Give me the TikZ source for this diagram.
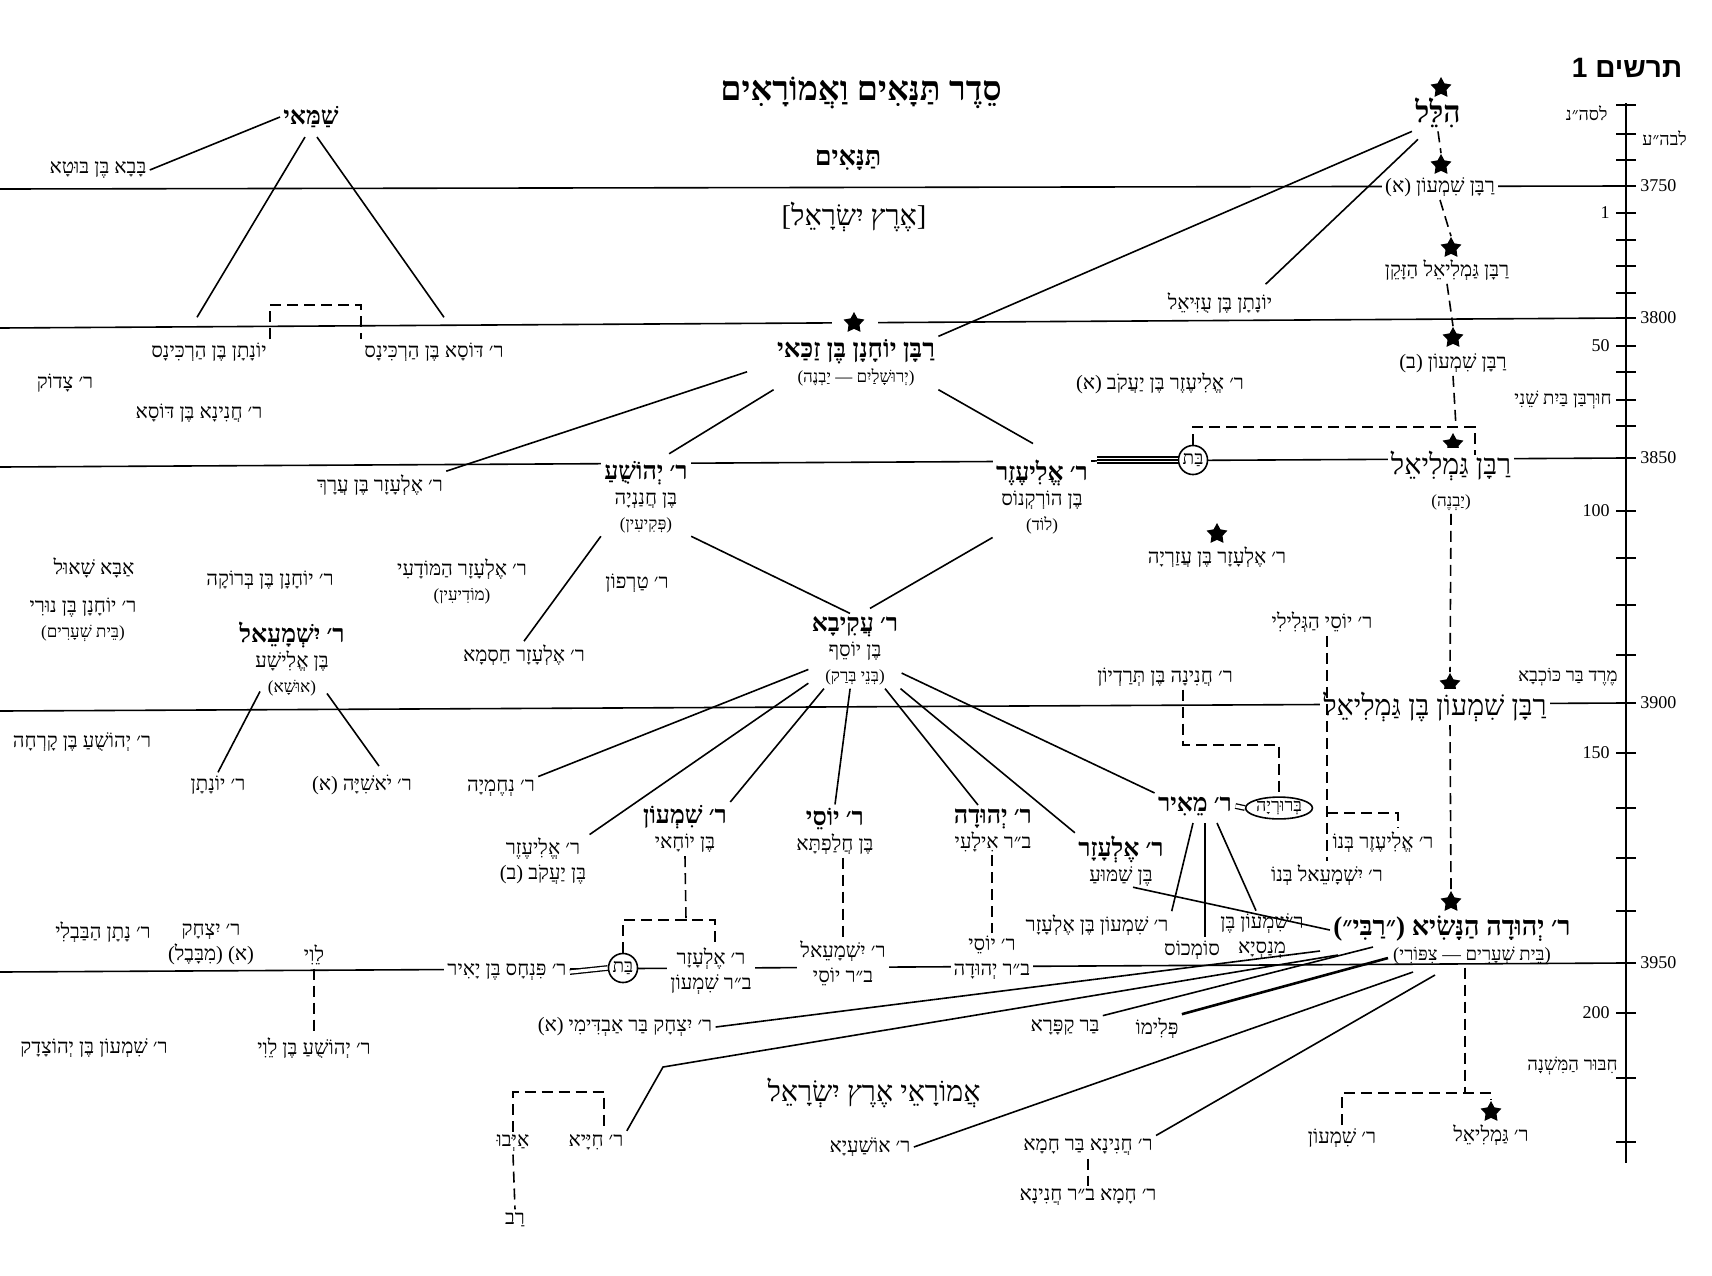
\documentclass[tikz,border=0pt]{standalone}
\usepackage{fontspec}
\setmainfont[Script=Hebrew]{Liberation Serif}
\newfontfamily\hebsans[Script=Hebrew]{Liberation Sans}
\usetikzlibrary{shapes.geometric,calc}
\TeXXeTstate=1

% right-to-left text: plain, bold heading, small place name
\newcommand\hb[1]{\beginR #1\endR}
\newcommand\bn[1]{{\bfseries\fontsize{12.5}{14}\selectfont\beginR #1\endR}}
\newcommand\sm[1]{{\fontsize{8.5}{10}\selectfont\beginR #1\endR}}

\tikzset{
  nm/.style={font=\fontsize{10.2}{12.5}\selectfont, inner sep=1.5pt, align=center},
  big/.style={font=\fontsize{14.3}{16}\selectfont, inner sep=1.5pt, align=center},
  onl/.style={fill=white},
  era/.style={line width=0.8pt},
  con/.style={line width=0.8pt},
  dsh/.style={line width=0.8pt, dash pattern=on 5.5pt off 3pt},
  dbl/.style={line width=0.65pt, double, double distance=1.6pt},
  trip/.style={line width=0.65pt, double, double distance=2.4pt},
  crown/.style={star, star points=5, star point ratio=1.9, fill=black, inner sep=0pt, minimum size=11pt},
  batc/.style={circle, draw, line width=0.8pt, fill=white, inner sep=0.8pt, font=\fontsize{9.5}{10}\selectfont},
  axl/.style={font=\fontsize{9}{10}\selectfont, inner sep=1pt},
}

\begin{document}
\begin{tikzpicture}[x=0.5pt,y=-0.5pt]
\useasboundingbox (0,0) rectangle (1712,1275);
\fill[white] (0,0) rectangle (1712,1275);

% era lines and year axis
\draw[era] (0,189) -- (1626,186);
\draw[era] (0,328) -- (1626,318);
\draw[era] (0,467) -- (1626,458);
\draw[era] (0,711) -- (1626,703);
\draw[era] (0,972) -- (1626,963);
\draw[era] (1626,103) -- (1626,1163);
\foreach \t in {105,134,160,186,213,240,266,293,318,346,372,400,426,458,511,558,605,655,703,753,808,858,911,963,1013,1078,1142}
  \draw[era] (1616,\t) -- (1636,\t);

\node[font=\hebsans\bfseries\fontsize{14}{16}\selectfont] (chart) at (1627,68) {\hb{תרשים 1}};
\node[axl, anchor=east] (ax0) at (1610,113) {\hb{לסה״נ}};
\node[axl, anchor=west] (ax1) at (1640,138) {\hb{לבה״ע}};
\node[axl, anchor=west] (y3750) at (1638,186) {3750};
\node[axl, anchor=west] (y3800) at (1638,318) {3800};
\node[axl, anchor=west] (y3850) at (1638,458) {3850};
\node[axl, anchor=west] (y3900) at (1638,703) {3900};
\node[axl, anchor=west] (y3950) at (1638,963) {3950};
\node[axl, anchor=east] (c1) at (1612,213) {1};
\node[axl, anchor=east] (c50) at (1612,346) {50};
\node[axl, anchor=east, font=\fontsize{9.3}{10}\selectfont] (churban) at (1614,400) {\hb{חוּרְבַּן בַּיִת שֵׁנִי}};
\node[axl, anchor=east] (c100) at (1612,511) {100};
\node[axl, anchor=east, font=\fontsize{9.3}{10}\selectfont] (kochba) at (1620,677) {\hb{מֶרֶד בַּר כּוֹכְבָא}};
\node[axl, anchor=east] (c150) at (1612,753) {150};
\node[axl, anchor=east] (c200) at (1612,1013) {200};
\node[axl, anchor=east, font=\fontsize{9.3}{10}\selectfont] (mishna) at (1620,1066) {\hb{חִבּוּר הַמִּשְׁנָה}};

% headings
\node[font=\bfseries\fontsize{17}{20}\selectfont] (title) at (861,93) {\hb{סֵדֶר תַּנָּאִים וַאֲמוֹרָאִים}};
\node[font=\bfseries\fontsize{13.5}{15}\selectfont] (tanaim) at (848,160) {\hb{תַּנָּאִים}};
\node[big] (eretz) at (854,217) {\hb{[אֶרֶץ יִשְׂרָאֵל]}};
\node[big] (amoraim) at (874,1093) {\hb{אֲמוֹרָאֵי אֶרֶץ יִשְׂרָאֵל}};

% crowns of the Nasi line
\fill[white] (832,314) rectangle (878,334);
\node[crown] (s_hillel) at (1441,88) {};
\node[crown] (s_rs1) at (1441,165) {};
\node[crown] (s_rgz) at (1451,248) {};
\node[crown] (s_rs2) at (1453,338) {};
\node[crown] (s_rgam) at (1453,444) {};
\node[crown] (s_azar) at (1217,534) {};
\node[crown] (s_rsbg) at (1450,684) {};
\node[crown] (s_rabbi) at (1451,902) {};
\node[crown] (s_gr) at (1491,1112) {};
\node[crown] (s_yoch) at (854,323) {};

% Shammai and Hillel
\node[nm] (shammai) at (311,117) {\bn{שַׁמַּאי}};
\node[nm] (bava) at (98,170) {\hb{בָּבָא בֶּן בּוּטָא}};
\node[nm] (yonh) at (209,352) {\hb{יוֹנָתָן בֶּן הַרְכִּינָס}};
\node[nm] (dosa) at (434,352) {\hb{ר׳ דּוֹסָא בֶּן הַרְכִּינָס}};
\node[nm] (tzadok) at (65,383) {\hb{ר׳ צָדוֹק}};
\node[nm] (chaninad) at (199,413) {\hb{ר׳ חֲנִינָא בֶּן דּוֹסָא}};
\node[nm, font=\bfseries\fontsize{15}{17}\selectfont] (hillel) at (1438,113) {\hb{הִלֵּל}};
\node[nm, onl] (rs1) at (1440,187) {\hb{רַבָּן שִׁמְעוֹן (א)}};
\node[nm] (rgz) at (1447,270) {\hb{רַבָּן גַּמְלִיאֵל הַזָּקֵן}};
\node[nm] (yonuz) at (1220,303) {\hb{יוֹנָתָן בֶּן עֻזִּיאֵל}};
\node[nm] (rs2) at (1453,363) {\hb{רַבָּן שִׁמְעוֹן (ב)}};
\node[nm] (eliezerya) at (1160,383) {\hb{ר׳ אֱלִיעֶזֶר בֶּן יַעֲקֹב (א)}};
\node[nm] (yochanan) at (856,363) {{\bfseries\fontsize{13}{14}\selectfont\hb{רַבָּן יוֹחָנָן בֶּן זַכַּאי}}\\\sm{(יְרוּשָׁלַיִם — יַבְנֶה)}};

% Yavne generation
\node[big, onl] (rgam) at (1451,481) {\hb{רַבָּן גַּמְלִיאֵל}\\\sm{(יַבְנֶה)}};
\node[batc] (bat1) at (1193,460) {\hb{בַּת}};
\node[nm, onl] (eliezer) at (1042,497) {\bn{ר׳ אֱלִיעֶזֶר}\\\hb{בֶּן הוֹרְקְנוֹס}\\\sm{(לוֹד)}};
\node[nm, onl] (yehoshua) at (646,497) {\bn{ר׳ יְהוֹשֻׁעַ}\\\hb{בֶּן חֲנַנְיָה}\\\sm{(פְּקִיעִין)}};
\node[nm] (benarach) at (380,485) {\hb{ר׳ אֶלְעָזָר בֶּן עֲרָךְ}};
\node[nm] (azarya) at (1217,557) {\hb{ר׳ אֶלְעָזָר בֶּן עֲזַרְיָה}};
\node[nm] (abba) at (94,568) {\hb{אַבָּא שָׁאוּל}};
\node[nm] (beroka) at (270,580) {\hb{ר׳ יוֹחָנָן בֶּן בְּרוֹקָה}};
\node[nm] (modai) at (462,581) {\hb{ר׳ אֶלְעָזָר הַמּוֹדָעִי}\\\sm{(מוֹדִיעִין)}};
\node[nm] (tarfon) at (637,583) {\hb{ר׳ טַרְפוֹן}};
\node[nm] (nuri) at (83,620) {\hb{ר׳ יוֹחָנָן בֶּן נוּרִי}\\\sm{(בֵּית שְׁעָרִים)}};
\node[nm] (yishmael) at (292,659) {\bn{ר׳ יִשְׁמָעֵאל}\\\hb{בֶּן אֱלִישָׁע}\\\sm{(אוּשָׁא)}};
\node[nm] (chisma) at (524,655) {\hb{ר׳ אֶלְעָזָר חַסְמָא}};
\node[nm] (akiva) at (855,651) {\bn{ר׳ עֲקִיבָא}\\\hb{בֶּן יוֹסֵף}\\\sm{(בְּנֵי בְּרַק)}};
\node[nm] (yosig) at (1322,622) {\hb{ר׳ יוֹסֵי הַגְּלִילִי}};
\node[nm] (tradyon) at (1165,677) {\hb{ר׳ חֲנִינָה בֶּן תְּרַדְיוֹן}};
\node[big, onl] (rsbg) at (1435,707) {\hb{רַבָּן שִׁמְעוֹן בֶּן גַּמְלִיאֵל}};

% Usha generation
\node[nm] (korcha) at (82,742) {\hb{ר׳ יְהוֹשֻׁעַ בֶּן קָרְחָה}};
\node[nm] (yonatan) at (218,785) {\hb{ר׳ יוֹנָתָן}};
\node[nm] (yoshiya) at (362,785) {\hb{ר׳ יֹאשִׁיָּה (א)}};
\node[nm] (nechemya) at (501,788) {\hb{ר׳ נְחֶמְיָה}};
\node[nm] (meir) at (1195,806) {\bn{ר׳ מֵאִיר}};
\node[ellipse, draw, line width=0.8pt, inner sep=0.3pt, font=\fontsize{9}{10}\selectfont] (bruria) at (1279,808) {\hb{בְּרוּרְיָה}};
\node[nm] (eliezerb) at (543,861) {\hb{ר׳ אֱלִיעֶזֶר}\\\hb{בֶּן יַעֲקֹב (ב)}};
\node[nm] (shimon) at (685,829) {\bn{ר׳ שִׁמְעוֹן}\\\hb{בֶּן יוֹחָאי}};
\node[nm] (yosi) at (835,831) {\bn{ר׳ יוֹסֵי}\\\hb{בֶּן חֲלַפְתָּא}};
\node[nm] (yehuda) at (993,830) {\bn{ר׳ יְהוּדָה}\\\hb{ב״ר אִילָעִי}};
\node[nm] (elazar) at (1121,861) {\bn{ר׳ אֶלְעָזָר}\\\hb{בֶּן שַׁמּוּעַ}};
\node[nm] (eliezerbno) at (1383,842) {\hb{ר׳ אֱלִיעֶזֶר בְּנוֹ}};
\node[nm] (yishmaelbno) at (1327,875) {\hb{ר׳ יִשְׁמָעֵאל בְּנוֹ}};
\node[nm] (sbe) at (1097,925) {\hb{ר׳ שִׁמְעוֹן בֶּן אֶלְעָזָר}};
\node[nm] (sumchus) at (1192,950) {\hb{סוֹמְכוֹס}};
\node[nm] (sbm) at (1262,936) {\hb{ר׳שִׁמְעוֹן בֶּן}\\\hb{מְנַסְיָא}};
\node[nm] (rabbi) at (1452,940) {{\bfseries\fontsize{13.5}{15}\selectfont\hb{ר׳ יְהוּדָה הַנָּשִׂיא (״רַבִּי״)}}\\\hspace*{20pt}{\fontsize{9.3}{10}\selectfont\hb{(בֵּית שְׁעָרִים — צִפּוֹרִי)}}};

% last Tannaim and first Amoraim
\node[nm] (yitzchak) at (211,944) {\hb{ר׳ יִצְחָק}\\\hb{(א) (מִבָּבֶל)}};
\node[nm] (natan) at (103,932) {\hb{ר׳ נָתָן הַבַּבְלִי}};
\node[nm] (levi) at (314,955) {\hb{לֵוִי}};
\node[nm, onl] (pinchas) at (507,972) {\hb{ר׳ פִּנְחָס בֶּן יָאִיר}};
\node[batc] (bat2) at (623,968) {\hb{בַּת}};
\node[nm, onl] (elazarbs) at (711,971) {\hb{ר׳ אֶלְעָזָר}\\\hb{ב״ר שִׁמְעוֹן}};
\node[nm, onl] (yishmaelby) at (843,963) {\hb{ר׳ יִשְׁמָעֵאל}\\\hb{ב״ר יוֹסֵי}};
\node[nm, onl] (yosiby) at (992,958) {\hb{ר׳ יוֹסֵי}\\\hb{ב״ר יְהוּדָה}};
\node[nm] (yitzavd) at (625,1027) {\hb{ר׳ יִצְחָק בַּר אַבְדִּימִי (א)}};
\node[nm] (karpa) at (1065,1027) {\hb{בַּר קַפָּרָא}};
\node[nm] (plimo) at (1157,1028) {\hb{פְּלִימוֹ}};
\node[nm] (ylevi) at (314,1048) {\hb{ר׳ יְהוֹשֻׁעַ בֶּן לֵוִי}};
\node[nm] (yehotzadak) at (94,1048) {\hb{ר׳ שִׁמְעוֹן בֶּן יְהוֹצָדָק}};
\node[nm] (ayvu) at (513,1143) {\hb{אַיְּבוּ}};
\node[nm] (chiya) at (596,1142) {\hb{ר׳ חִיָּיא}};
\node[nm] (oshaya) at (870,1147) {\hb{ר׳ אוֹשַׁעְיָא}};
\node[nm] (chaninabh) at (1088,1147) {\hb{ר׳ חֲנִינָא בַּר חָמָא}};
\node[nm] (chamabc) at (1088,1197) {\hb{ר׳ חָמָא ב״ר חֲנִינָא}};
\node[nm] (rav) at (515,1220) {\hb{רַב}};
\node[nm] (shimonr) at (1342,1138) {\hb{ר׳ שִׁמְעוֹן}};
\node[nm] (gamlielr) at (1491,1135) {\hb{ר׳ גַּמְלִיאֵל}};

% teacher lines
\draw[con] (shammai.west) -- (bava.east);
\draw[con] ($(shammai.south)+(-6,6)$) -- ($(yonh.north)+(-12,-22)$);
\draw[con] ($(shammai.south)+(6,6)$) -- ($(dosa.north)+(10,-22)$);
\draw[dsh] (yonh.north east) -- ++(0,-34) -| (dosa.north west);
\draw[con] (hillel.south west) -- (yochanan.north east);
\draw[con] ($(hillel.south west)+(6,8)$) -- ($(yonuz.north east)+(-10,-5)$);
\draw[con, shorten <=14pt] (yochanan.west) -- (benarach.north east);
\draw[con] (yochanan.south west) -- ($(yehoshua.north east)+(-22,-4)$);
\draw[con] (yochanan.south east) -- ($(eliezer.north)+(-9,-13)$);
\draw[con] (yehoshua.south east) -- ($(akiva.north)+(-5,0)$);
\draw[con] (eliezer.south west) -- ($(akiva.north)+(15,-5)$);
\draw[con] (yehoshua.south west) -- (chisma.north);
\draw[con] ($(yishmael.south)+(-32,-8)$) -- (yonatan.north);
\draw[con] ($(yishmael.south)+(35,-6)$) -- ($(yoshiya.north)+(17,-6)$);
\draw[con] (akiva) -- (nechemya.north east);
\draw[con] (akiva) -- (eliezerb.north east);
\draw[con] (akiva) -- (shimon.north east);
\draw[con] (akiva) -- (yosi.north);
\draw[con] (akiva) -- ($(yehuda.north)+(-15,0)$);
\draw[con] (akiva) -- (elazar.north west);
\draw[con] (akiva) -- (meir.north west);
\draw[con] ($(meir.south)+(-2,4)$) -- (sbe.north east);
\draw[con] ($(meir.south)+(10,4)$) -- ($(sumchus.north)+(13,0)$);
\draw[con] ($(meir.south)+(22,4)$) -- ($(sbm.north)+(-6,0)$);
\draw[con] ($(elazar.south)+(12,-2)$) -- ($(rabbi.west)+(0,-10)$);

% Rabbi's pupils
\coordinate (rf1) at (1320,951);
\coordinate (rf2) at (1338,955);
\coordinate (rf3) at (1373,947);
\coordinate (rf4) at (1388,958);
\coordinate (rf5) at (1413,972);
\coordinate (rf6) at (1435,975);
\coordinate (chbend) at (663,1067);
\draw[con] (rf1) -- (yitzavd.east);
\draw[con] (rf2) -- (chbend) -- (chiya.north east);
\draw[con] (rf3) -- (karpa.north east);
\draw[con, line width=1.3pt] (rf4) -- (plimo.north east);
\draw[con] (rf5) -- (oshaya.east);
\draw[con] (rf6) -- (chaninabh.north east);

% marriages
\draw[dbl] (meir.east) -- (bruria.west);
\draw[dbl] (pinchas.east) -- (bat2.west);
\draw[trip, shorten <=3pt] (eliezer.east |- bat1) -- (bat1.west);
\draw[con, shorten <=3pt] (eliezer.east |- bat1) -- (bat1.west);

% father to son
\draw[dsh] (hillel.south) -- (s_rs1.north);
\draw[dsh] (rs1.south) -- (s_rgz.north);
\draw[dsh] (rgz.south) -- (s_rs2.north);
\coordinate (rsbk) at (1456,427);
\draw[dsh] (rs2.south) -- (rsbk);
\draw[dsh] (bat1.north) |- (rsbk) -- ++(19,0) -- ++(0,28);
\draw[dsh] (rgam.south) -- (s_rsbg.north);
\draw[dsh] (s_rsbg |- rsbg.south) -- (s_rabbi.north);
\coordinate (rbk) at (1465,1093);
\draw[dsh] (rbk |- rabbi.south) -- (rbk);
\draw[dsh] (shimonr.north) |- (rbk) -| (s_gr.north);
\draw[dsh] (yosig.south -| yishmaelbno.north) -- (yishmaelbno.north);
\draw[dsh] ($(yishmaelbno.north)+(0,-48)$) -| ($(eliezerbno.north)+(15,0)$);
\draw[dsh] ($(tradyon.south)+(18,0)$) -- ++(0,55) -| (bruria.north);
\coordinate (sbk) at (686,920);
\draw[dsh] (shimon.south) -- (sbk);
\draw[dsh] (bat2.north) |- (sbk) -| ($(elazarbs.north)+(4,0)$);
\draw[dsh] (yishmaelby.north |- yosi.south) -- (yishmaelby.north);
\draw[dsh] (yosiby.north |- yehuda.south) -- (yosiby.north);
\draw[dsh] (levi.south) -- (ylevi.north);
\coordinate (abk) at (604,1092);
\draw[dsh] (ayvu.north) |- (abk) -- ($(chiya.north)+(8,0)$);
\draw[dsh] (ayvu.south) -- (rav.north);
\draw[dsh] (chaninabh.south) -- (chamabc.north);

\end{tikzpicture}
\end{document}
